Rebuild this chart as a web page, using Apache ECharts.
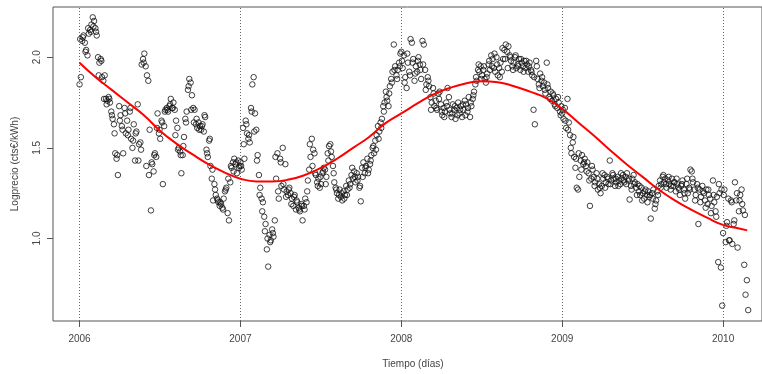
<!DOCTYPE html>
<html>
<head>
<meta charset="utf-8">
<script src="https://cdn.jsdelivr.net/npm/echarts@6/dist/echarts.min.js"></script>
<style>
  html, body { margin: 0; padding: 0; background: #fff; }
  #chart { width: 762px; height: 374px; }
</style>
</head>
<body>
<div id="chart"></div>
<script>
// main readings: one every 3 days from 1 January of each year
const pasoDias = 3
// extra readings in between: one every 6 days, starting at day 1.5
const pasoExtra = 6
const inicioExtra = 1.5

const precio2006 = [1.85, 1.89, 2.09, 2.12, 2.08, 2.04, 2.01, 2.13, 2.15, 2.18, 2.22, 2.20, 2.16, 2.12,
  2.00, 1.97, 1.99, 1.89, 1.87, 1.90, 1.77, 1.76, 1.78, 1.75, 1.70, 1.66, 1.63, 1.47, 1.44, 1.35,
  1.73, 1.68, 1.62, 1.47, 1.72, 1.58, 1.65, 1.60, 1.70, 1.55, 1.50, 1.63, 1.43, 1.59, 1.74, 1.52,
  1.53, 1.96, 1.99, 2.02, 1.95, 1.90, 1.87, 1.60, 1.155, 1.41, 1.37, 1.47, 1.45, 1.69, 1.58, 1.55,
  1.65, 1.30, 1.62, 1.71, 1.72, 1.70, 1.73, 1.77, 1.72, 1.75, 1.71, 1.65, 1.61, 1.50, 1.48, 1.36,
  1.46, 1.56, 1.66, 1.70, 1.82, 1.88, 1.86, 1.79, 1.72, 1.71, 1.63, 1.61, 1.64, 1.62, 1.60, 1.63,
  1.59, 1.67, 1.49, 1.45, 1.54, 1.40, 1.33, 1.21, 1.30, 1.24, 1.22, 1.20, 1.18, 1.19, 1.17, 1.22,
  1.26, 1.28, 1.14, 1.10, 1.31, 1.39, 1.42, 1.44, 1.41, 1.36, 1.43, 1.40]
const extra2006 = [2.10, 2.11, 2.03, 2.16, 2.14, 2.17, 2.14, 1.90, 1.98, 1.77, 1.74, 1.77, 1.68, 1.58,
  1.46, 1.65, 1.60, 1.69, 1.57, 1.72, 1.54, 1.58, 1.43, 1.49, 1.97, 1.40, 1.35, 1.42, 1.46, 1.61,
  1.60, 1.64, 1.70, 1.71, 1.74, 1.72, 1.57, 1.49, 1.46, 1.51, 1.64, 1.84, 1.71, 1.64, 1.66, 1.60,
  1.62, 1.68, 1.47, 1.55, 1.38, 1.27, 1.21, 1.20, 1.16, 1.27, 1.33, 1.40, 1.37, 1.42, 1.39]

const precio2007 = [1.42, 1.38, 1.61, 1.44, 1.65, 1.58, 1.55, 1.53, 1.72, 1.85, 1.89, 1.69, 1.60, 1.46,
  1.35, 1.28, 1.22, 1.20, 1.12, 1.08, 0.94, 0.845, 1.02, 0.99, 1.05, 1.01, 1.10, 1.33, 1.47, 1.22,
  1.44, 1.29, 1.50, 1.27, 1.41, 1.26, 1.24, 1.28, 1.25, 1.22, 1.18, 1.24, 1.16, 1.20, 1.17, 1.15,
  1.19, 1.10, 1.18, 1.22, 1.20, 1.32, 1.38, 1.45, 1.55, 1.49, 1.47, 1.35, 1.31, 1.33, 1.28, 1.30,
  1.36, 1.39, 1.38, 1.34, 1.47, 1.51, 1.52, 1.45, 1.40, 1.31, 1.28, 1.25, 1.22, 1.27, 1.23, 1.21,
  1.26, 1.24, 1.29, 1.27, 1.32, 1.30, 1.35, 1.33, 1.37, 1.31, 1.36, 1.34, 1.28, 1.205, 1.39, 1.42,
  1.36, 1.40, 1.44, 1.38, 1.41, 1.46, 1.50, 1.47, 1.54, 1.57, 1.62, 1.59, 1.64, 1.66, 1.73, 1.75,
  1.81, 1.76, 1.73, 1.84, 1.88, 1.92, 2.07, 1.95, 1.90, 1.93, 1.97, 2.02]
const extra2007 = [1.40, 1.52, 1.63, 1.57, 1.70, 1.59, 1.43, 1.24, 1.15, 1.04, 1.00, 0.98, 1.03, 1.45,
  1.26, 1.42, 1.30, 1.23, 1.27, 1.19, 1.23, 1.21, 1.16, 1.18, 1.16, 1.26, 1.52, 1.40, 1.36, 1.29,
  1.34, 1.37, 1.30, 1.43, 1.48, 1.36, 1.27, 1.24, 1.25, 1.22, 1.24, 1.28, 1.39, 1.34, 1.32, 1.29,
  1.34, 1.39, 1.36, 1.43, 1.51, 1.49, 1.55, 1.61, 1.70, 1.78, 1.80, 1.86, 1.93, 1.88, 1.95]

const precio2008 = [2.03, 1.94, 2.01, 1.89, 1.83, 1.97, 1.92, 2.10, 2.08, 1.99, 1.87, 1.95, 1.92, 2.00,
  1.96, 1.88, 2.09, 2.07, 1.93, 1.85, 1.89, 1.84, 1.78, 1.75, 1.83, 1.73, 1.76, 1.71, 1.80, 1.81,
  1.74, 1.68, 1.72, 1.70, 1.75, 1.83, 1.78, 1.69, 1.67, 1.74, 1.71, 1.66, 1.72, 1.75, 1.69, 1.73,
  1.67, 1.71, 1.76, 1.74, 1.70, 1.78, 1.67, 1.73, 1.77, 1.81, 1.85, 1.87, 1.93, 1.92, 1.95, 1.90,
  1.93, 1.88, 1.86, 1.91, 1.96, 1.93, 2.01, 1.99, 1.94, 1.92, 2.00, 1.90, 1.94, 1.97, 1.92, 1.99,
  2.04, 2.07, 2.03, 2.06, 2.01, 1.98, 1.95, 1.97, 2.00, 1.94, 1.96, 1.99, 1.93, 1.97, 1.95, 1.98,
  1.94, 1.96, 1.92, 1.97, 1.93, 1.90, 1.71, 1.63, 1.98, 1.88, 1.85, 1.91, 1.87, 1.84, 1.86, 1.80,
  1.97, 1.83, 1.78, 1.81, 1.76, 1.79, 1.74, 1.77, 1.72, 1.75, 1.70, 1.73]
const extra2008 = [1.98, 1.86, 2.02, 1.90, 1.97, 1.91, 1.98, 1.93, 1.96, 1.82, 1.87, 1.71, 1.80, 1.72,
  1.77, 1.70, 1.67, 1.73, 1.71, 1.69, 1.73, 1.68, 1.71, 1.74, 1.68, 1.72, 1.75, 1.79, 1.89, 1.96,
  1.88, 1.95, 1.89, 1.98, 1.95, 2.02, 1.96, 1.89, 2.05, 1.99, 1.94, 2.00, 1.93, 2.01, 1.95, 1.99,
  1.92, 1.98, 1.95, 1.92, 1.89, 1.95, 1.83, 1.89, 1.82, 1.85, 1.77, 1.80, 1.73, 1.78, 1.68]

const precio2009 = [1.69, 1.66, 1.72, 1.61, 1.77, 1.64, 1.57, 1.47, 1.53, 1.45, 1.39, 1.28, 1.27, 1.34,
  1.43, 1.46, 1.41, 1.44, 1.40, 1.42, 1.36, 1.18, 1.33, 1.38, 1.34, 1.31, 1.36, 1.27, 1.30, 1.25,
  1.29, 1.33, 1.35, 1.31, 1.34, 1.30, 1.43, 1.32, 1.36, 1.33, 1.29, 1.31, 1.34, 1.32, 1.30, 1.33,
  1.35, 1.31, 1.34, 1.36, 1.32, 1.215, 1.29, 1.33, 1.35, 1.31, 1.28, 1.30, 1.26, 1.24, 1.28, 1.25,
  1.22, 1.27, 1.24, 1.26, 1.23, 1.11, 1.25, 1.27, 1.165, 1.21, 1.26, 1.29, 1.32, 1.30, 1.34, 1.31,
  1.33, 1.28, 1.32, 1.30, 1.27, 1.33, 1.29, 1.31, 1.26, 1.30, 1.28, 1.24, 1.29, 1.32, 1.27, 1.22,
  1.30, 1.25, 1.28, 1.38, 1.37, 1.31, 1.27, 1.24, 1.30, 1.08, 1.27, 1.23, 1.29, 1.25, 1.21, 1.27,
  1.19, 1.24, 1.22, 1.18, 1.32, 1.20, 1.15, 1.23, 0.87, 1.25, 0.84, 0.63]
const extra2009 = [1.71, 1.65, 1.60, 1.50, 1.56, 1.44, 1.47, 1.38, 1.42, 1.37, 1.32, 1.40, 1.29, 1.33,
  1.28, 1.36, 1.28, 1.33, 1.30, 1.35, 1.33, 1.29, 1.36, 1.32, 1.30, 1.33, 1.27, 1.30, 1.24, 1.29,
  1.21, 1.26, 1.20, 1.24, 1.22, 1.19, 1.24, 1.28, 1.35, 1.30, 1.34, 1.29, 1.31, 1.33, 1.27, 1.30,
  1.25, 1.33, 1.27, 1.33, 1.21, 1.28, 1.20, 1.26, 1.17, 1.27, 1.14, 1.24, 1.12, 1.30, 1.27]

const precio2010 = [1.03, 1.27, 0.98, 1.09, 1.22, 0.99, 1.21, 0.97, 1.08, 1.31, 1.21, 0.95, 1.15, 1.24,
  1.27, 1.155, 0.855, 0.69, 0.77, 0.605]
const extra2010 = [1.24, 1.07, 0.99, 1.20, 1.10, 1.25, 1.21, 1.19, 1.13]

// loess fit
const ajusteTiempo = [2006.0, 2006.1, 2006.2, 2006.3, 2006.4, 2006.5, 2006.6, 2006.7, 2006.8, 2006.9,
  2007.0, 2007.1, 2007.2, 2007.3, 2007.4, 2007.5, 2007.6, 2007.7, 2007.8, 2007.9,
  2008.0, 2008.1, 2008.2, 2008.3, 2008.4, 2008.5, 2008.6, 2008.7, 2008.8, 2008.9,
  2009.0, 2009.1, 2009.2, 2009.3, 2009.4, 2009.5, 2009.6, 2009.7, 2009.8, 2009.9,
  2010.0, 2010.1, 2010.15]
const ajusteValor = [1.97, 1.89, 1.82, 1.75, 1.68, 1.595, 1.525, 1.465, 1.41, 1.365,
  1.33, 1.315, 1.315, 1.325, 1.35, 1.39, 1.44, 1.50, 1.56, 1.635,
  1.69, 1.745, 1.795, 1.83, 1.855, 1.867, 1.862, 1.84, 1.81, 1.775,
  1.715, 1.64, 1.565, 1.485, 1.41, 1.34, 1.27, 1.21, 1.16, 1.115,
  1.075, 1.055, 1.045]

const anios = [2006, 2007, 2008, 2009, 2010]
const ticksY = [1.0, 1.5, 2.0]

const principales = [[2006, precio2006], [2007, precio2007], [2008, precio2008], [2009, precio2009], [2010, precio2010]]
const extras = [[2006, extra2006], [2007, extra2007], [2008, extra2008], [2009, extra2009], [2010, extra2010]]

const puntos = []
principales.forEach(([anio, valores]) => {
  valores.forEach((v, i) => puntos.push([anio + (i * pasoDias) / 365, v]))
})
extras.forEach(([anio, valores]) => {
  valores.forEach((v, i) => puntos.push([anio + (inicioExtra + i * pasoExtra) / 365, v]))
})
const curva = ajusteTiempo.map((t, i) => [t, ajusteValor[i]])

const axisColor = '#555'
const textColor = '#444'
const font = 'Liberation Sans, Arial, sans-serif'

const chart = echarts.init(document.getElementById('chart'), null, { renderer: 'canvas' })
chart.setOption({
  animation: false,
  backgroundColor: '#fff',
  grid: { left: 53, right: 0, top: 7, bottom: 50, show: true, borderColor: axisColor, borderWidth: 1 },
  xAxis: {
    type: 'value',
    min: 2005.835,
    max: 2010.242,
    name: 'Tiempo (días)',
    nameLocation: 'middle',
    nameGap: 38,
    nameTextStyle: { color: textColor, fontFamily: font, fontSize: 10, padding: [0, 0, 0, 11] },
    axisLine: { show: false },
    splitLine: { show: false },
    axisTick: { show: true, length: 6, customValues: anios, lineStyle: { color: axisColor } },
    axisLabel: { customValues: anios, margin: 13, color: textColor, fontFamily: font, fontSize: 10,
      formatter: v => String(v) }
  },
  yAxis: {
    type: 'value',
    min: 0.545,
    max: 2.277,
    name: 'Logprecio (cts€/kWh)',
    nameLocation: 'middle',
    nameGap: 33,
    nameRotate: 90,
    nameTextStyle: { color: textColor, fontFamily: font, fontSize: 10 },
    axisLine: { show: false },
    splitLine: { show: false },
    axisTick: { show: true, length: 6, customValues: ticksY, lineStyle: { color: axisColor } },
    axisLabel: { customValues: ticksY, rotate: 90, margin: 11, color: textColor, fontFamily: font,
      fontSize: 10, formatter: v => v.toFixed(1) }
  },
  series: [
    {
      type: 'scatter',
      data: puntos,
      symbol: 'circle',
      symbolSize: 5.5,
      itemStyle: { color: 'rgba(0,0,0,0)', borderColor: '#111', borderWidth: 1 },
      markLine: {
        silent: true,
        symbol: ['none', 'none'],
        label: { show: false },
        lineStyle: { type: [1, 2], color: '#666', width: 1 },
        data: anios.map(a => ({ xAxis: a }))
      }
    },
    {
      type: 'line',
      data: curva,
      smooth: true,
      showSymbol: false,
      lineStyle: { color: '#ff0000', width: 2 },
      z: 3
    }
  ]
})
</script>
</body>
</html>
